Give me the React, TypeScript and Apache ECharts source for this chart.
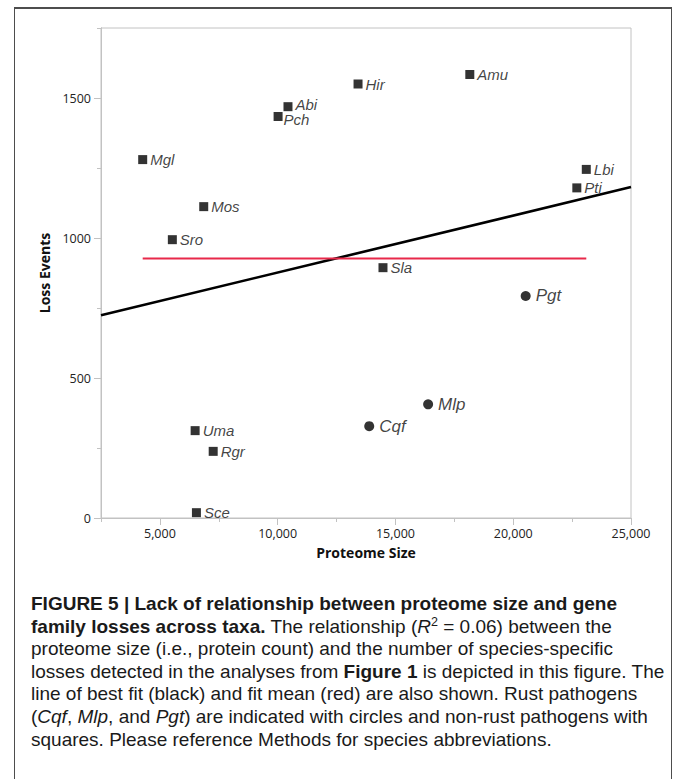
import React, { useEffect, useRef } from "react";
import * as echarts from "echarts";

// ---- Data ----
const squareNames = ["Amu", "Hir", "Abi", "Pch", "Mgl", "Lbi", "Pti", "Mos", "Sro", "Sla", "Uma", "Rgr", "Sce"];
const squareX = [18157, 13412, 10438, 10018, 4270, 23102, 22700, 6861, 5529, 14471, 6496, 7263, 6551];
const squareY = [1584, 1550, 1469, 1434, 1280, 1245, 1179, 1112, 994, 894, 312, 238, 19];

const circleNames = ["Pgt", "Mlp", "Cqf"];
const circleX = [20529, 16387, 13887];
const circleY = [793, 406, 328];

const fitX = [2500, 25000];
const fitY = [724, 1182];

const meanX = [4270, 23102];
const meanY = [927, 927];

const xTickValues = [5000, 10000, 15000, 20000, 25000];
const yTickValues = [0, 500, 1000, 1500];

const xTitle = "Proteome Size";
const yTitle = "Loss Events";

const AXIS_GRAY = "#c2c2c2";
const TICK_FONT = "'Open Sans', 'DejaVu Sans', sans-serif";
const LABEL_FONT = "'Liberation Sans', Arial, sans-serif";

// small label nudges so the two close labels (Abi / Pch) sit as in the reference
const labelNudge: Record<string, number[]> = { Abi: [0, -2], Pch: [-2, 3] };

function Chart() {
  const ref = useRef<HTMLDivElement | null>(null);
  useEffect(() => {
    if (!ref.current) return;
    const chart = echarts.init(ref.current, undefined, { renderer: "svg" });
    const pointLabel = (size: number, dist: number) => ({
      show: true,
      position: "right" as const,
      distance: dist,
      formatter: "{b}",
      fontStyle: "italic" as const,
      fontSize: size,
      lineHeight: size - 2,
      fontFamily: LABEL_FONT,
      color: "#111",
    });
    chart.setOption({
      animation: false,
      backgroundColor: "transparent",
      grid: {
        left: 101,
        right: 42,
        top: 28,
        bottom: 62,
        show: true,
        borderColor: AXIS_GRAY,
        borderWidth: 1,
        backgroundColor: "transparent",
      },
      xAxis: [
        {
          type: "value",
          min: 2500,
          max: 25000,
          interval: 2500,
          position: "bottom",
          axisLine: { show: true, onZero: false, lineStyle: { color: AXIS_GRAY, width: 1 } },
          axisTick: { show: true, length: 4, lineStyle: { color: AXIS_GRAY } },
          axisLabel: { show: false },
          splitLine: { show: false },
        },
        {
          type: "value",
          min: 2500,
          max: 25000,
          position: "bottom",
          offset: 0,
          axisLine: { show: true, onZero: false, lineStyle: { color: AXIS_GRAY, width: 1 } },
          axisTick: { show: true, length: 7, customValues: xTickValues, lineStyle: { color: AXIS_GRAY } },
          axisLabel: {
            show: true,
            customValues: xTickValues,
            formatter: (v: number) => v.toLocaleString("en-US"),
            margin: 9,
            fontSize: 12.5,
            fontFamily: TICK_FONT,
            color: "#222",
          },
          splitLine: { show: false },
          name: xTitle,
          nameLocation: "middle",
          nameGap: 27,
          nameTextStyle: { fontWeight: "bold", fontSize: 14, fontFamily: TICK_FONT, color: "#111" },
        },
      ],
      yAxis: [
        {
          type: "value",
          min: 0,
          max: 1750,
          interval: 250,
          position: "left",
          axisLine: { show: true, onZero: false, lineStyle: { color: AXIS_GRAY, width: 1 } },
          axisTick: { show: true, length: 4, lineStyle: { color: AXIS_GRAY } },
          axisLabel: { show: false },
          splitLine: { show: false },
        },
        {
          type: "value",
          min: 0,
          max: 1750,
          position: "left",
          offset: 0,
          axisLine: { show: true, onZero: false, lineStyle: { color: AXIS_GRAY, width: 1 } },
          axisTick: { show: true, length: 7, customValues: yTickValues, lineStyle: { color: AXIS_GRAY } },
          axisLabel: {
            show: true,
            customValues: yTickValues,
            formatter: (v: number) => String(v),
            margin: 10,
            fontSize: 12.5,
            fontFamily: TICK_FONT,
            color: "#222",
          },
          splitLine: { show: false },
          name: yTitle,
          nameLocation: "middle",
          nameGap: 48,
          nameTextStyle: { fontWeight: "bold", fontSize: 14, fontFamily: TICK_FONT, color: "#111" },
        },
      ],
      series: [
        {
          type: "line",
          xAxisIndex: 0,
          yAxisIndex: 0,
          data: fitX.map((x, i) => [x, fitY[i]]),
          showSymbol: false,
          symbol: "none",
          lineStyle: { color: "#000", width: 2.6 },
          z: 2,
          silent: true,
        },
        {
          type: "line",
          xAxisIndex: 0,
          yAxisIndex: 0,
          data: meanX.map((x, i) => [x, meanY[i]]),
          showSymbol: false,
          symbol: "none",
          lineStyle: { color: "#e8294a", width: 2 },
          z: 3,
          silent: true,
        },
        {
          type: "scatter",
          xAxisIndex: 0,
          yAxisIndex: 0,
          symbol: "rect",
          symbolSize: 9,
          itemStyle: { color: "#000" },
          label: pointLabel(15, 3),
          data: squareNames.map((n, i) => ({
            name: n,
            value: [squareX[i], squareY[i]],
            ...(labelNudge[n] ? { label: { offset: labelNudge[n] } } : {}),
          })),
          z: 5,
        },
        {
          type: "scatter",
          xAxisIndex: 0,
          yAxisIndex: 0,
          symbol: "circle",
          symbolSize: 10,
          itemStyle: { color: "#000" },
          label: pointLabel(17, 5),
          data: circleNames.map((n, i) => ({ name: n, value: [circleX[i], circleY[i]] })),
          z: 5,
        },
      ],
    });
    return () => chart.dispose();
  }, []);
  return <div ref={ref} style={{ position: "absolute", left: 0, top: 0, width: 673, height: 580 }} />;
}

const capStyle: React.CSSProperties = {
  position: "absolute",
  left: 31,
  top: 593,
  fontFamily: "'Liberation Sans', Arial, sans-serif",
  fontSize: 19,
  lineHeight: "22.6px",
  color: "#1a1a1a",
  whiteSpace: "nowrap",
};

const sup: React.CSSProperties = { fontSize: "0.66em", position: "relative", top: "-0.55em", lineHeight: 0 };

export default function App() {
  return (
    <div
      style={{
        position: "absolute",
        left: 0,
        top: 0,
        width: 673,
        height: 779,
        overflow: "hidden",
        background: "#fff",
      }}
    >
      <div
        style={{
          position: "absolute",
          left: 14,
          top: 7,
          width: 656,
          height: 800,
          borderLeft: "1px solid #4d4d4d",
          borderRight: "1px solid #4d4d4d",
          borderTop: "2px solid #4d4d4d",
        }}
      />
      <Chart />
      <div style={capStyle}>
        <b>FIGURE 5 | Lack of relationship between proteome size and gene</b>
        <br />
        <b>family losses across taxa.</b> The relationship (<i>R</i>
        <span style={sup}>2</span> = 0.06) between the
        <br />
        proteome size (i.e., protein count) and the number of species-specific
        <br />
        losses detected in the analyses from <b>Figure 1</b> is depicted in this figure. The
        <br />
        line of best fit (black) and fit mean (red) are also shown. Rust pathogens
        <br />
        (<i>Cqf</i>, <i>Mlp</i>, and <i>Pgt</i>) are indicated with circles and non-rust pathogens with
        <br />
        squares. Please reference Methods for species abbreviations.
      </div>
    </div>
  );
}
